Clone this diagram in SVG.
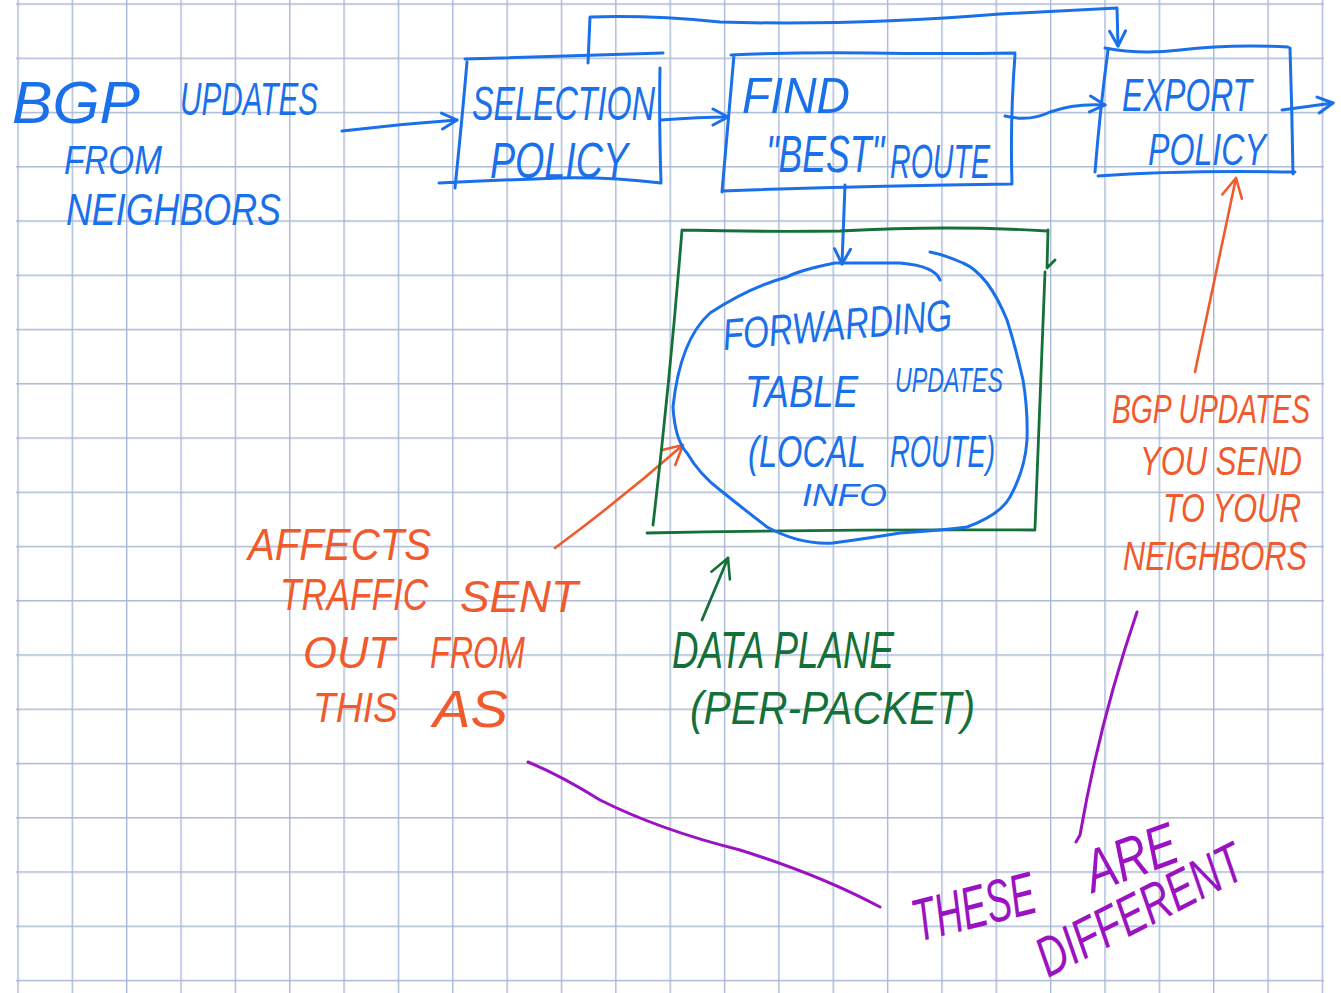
<svg xmlns="http://www.w3.org/2000/svg" width="1341" height="993" viewBox="0 0 1341 993">
<defs>
<pattern id="grid" x="17.3" y="3.3" width="54.35" height="54.25" patternUnits="userSpaceOnUse">
<path d="M0.7,0 V54.25 M0,0.7 H54.35" fill="none" stroke="#a9b9d5" stroke-width="1.4"/>
</pattern>
<marker id="ab" viewBox="0 0 20 20" refX="18" refY="10" markerWidth="20" markerHeight="20" markerUnits="userSpaceOnUse" orient="auto"><path d="M3,2 L18,10 L3,18" fill="none" stroke="#1a70ea" stroke-width="3" stroke-linecap="round" stroke-linejoin="round"/></marker>
<marker id="ao" viewBox="0 0 24 24" refX="22" refY="12" markerWidth="24" markerHeight="24" markerUnits="userSpaceOnUse" orient="auto"><path d="M3,2 L22,12 L3,22" fill="none" stroke="#f05a2c" stroke-width="2.6" stroke-linecap="round" stroke-linejoin="round"/></marker>
<marker id="ag" viewBox="0 0 24 24" refX="22" refY="12" markerWidth="24" markerHeight="24" markerUnits="userSpaceOnUse" orient="auto"><path d="M3,2 L22,12 L3,22" fill="none" stroke="#137038" stroke-width="2.6" stroke-linecap="round" stroke-linejoin="round"/></marker>
</defs>
<style>
.b{fill:none;stroke:#1a70ea;stroke-width:3;stroke-linecap:round;stroke-linejoin:round}
.o{fill:none;stroke:#f05a2c;stroke-width:2.6;stroke-linecap:round;stroke-linejoin:round}
.g{fill:none;stroke:#137038;stroke-width:2.8;stroke-linecap:round;stroke-linejoin:round}
.p{fill:none;stroke:#9b12c2;stroke-width:3;stroke-linecap:round;stroke-linejoin:round}
text{font-family:"Liberation Sans",Arial,sans-serif;font-style:italic;}
.tb{fill:#1a70ea}.to{fill:#f05a2c}.tg{fill:#137038}.tp{fill:#9b12c2}
</style>
<rect x="0" y="0" width="1341" height="993" fill="#ffffff"/>
<rect x="16" y="0" width="1308" height="993" fill="url(#grid)"/>

<g id="connectors">
<path class="b" d="M342,131 Q400,124 457,120" marker-end="url(#ab)"/>
<path class="b" d="M661,120 Q700,117 728,117" marker-end="url(#ab)"/>
<path class="b" d="M1005,116 Q1030,122 1050,112 Q1075,103 1105,105" marker-end="url(#ab)"/>
<path class="b" d="M1282,110 L1333,103" marker-end="url(#ab)"/>
<path class="b" d="M588,63 L590,17 Q650,15 720,22 Q850,26 1000,14 L1117,8 L1118,46" marker-end="url(#ab)"/>
<path class="b" d="M845,185 L842,264" marker-end="url(#ab)"/>
<path class="o" d="M555,548 Q620,500 683,445" marker-end="url(#ao)"/>
<path class="o" d="M1195,372 L1236,178" marker-end="url(#ao)"/>
<path class="g" d="M702,620 L728,558" marker-end="url(#ag)"/>
<path class="p" d="M528,762 Q560,775 600,800 Q660,830 740,850 Q820,875 880,907"/>
<path class="p" d="M1137,612 Q1100,720 1080,835 L1076,842"/>
</g>

<g id="bgp-updates-from-neighbors">
<text class="tb" font-size="60" transform="translate(12 123)" textLength="128" lengthAdjust="spacingAndGlyphs">BGP</text>
<text class="tb" font-size="29" transform="translate(180 115) scale(1 1.6)" textLength="138" lengthAdjust="spacingAndGlyphs">UPDATES</text>
<text class="tb" font-size="33" transform="translate(64 174) scale(1 1.21)" textLength="98" lengthAdjust="spacingAndGlyphs">FROM</text>
<text class="tb" font-size="35.8" transform="translate(66 225) scale(1 1.23)" textLength="215" lengthAdjust="spacingAndGlyphs">NEIGHBORS</text>
</g>

<g id="selection-policy">
<path class="b" d="M465,59 L663,53 M467,62 Q462,120 455,188 M660,68 Q659,120 661,183 M439,183 Q500,180 560,178 Q610,177 661,183"/>
<text class="tb" font-size="32.3" transform="translate(472 120) scale(1 1.49)" textLength="183" lengthAdjust="spacingAndGlyphs">SELECTION</text>
<text class="tb" font-size="37.6" transform="translate(490 178) scale(1 1.33)" textLength="138" lengthAdjust="spacingAndGlyphs">POLICY</text>
</g>

<g id="find-best-route">
<path class="b" d="M731,55 Q800,52 870,53 T1015,53 M734,55 L722,192 M1015,55 Q1010,120 1012,184 M722,191 Q860,186 1012,184"/>
<text class="tb" font-size="46" transform="translate(742 113) scale(1 1.09)" textLength="108" lengthAdjust="spacingAndGlyphs">FIND</text>
<text class="tb" font-size="35.5" transform="translate(766 172) scale(1 1.46)" textLength="118" lengthAdjust="spacingAndGlyphs">"BEST"</text>
<text class="tb" font-size="28.5" transform="translate(890 178) scale(1 1.7)" textLength="100" lengthAdjust="spacingAndGlyphs">ROUTE</text>
</g>

<g id="export-policy">
<path class="b" d="M1105,48 Q1140,55 1180,50 Q1230,44 1288,47 M1108,50 Q1100,110 1095,172 M1290,48 Q1292,110 1293,174 M1098,176 Q1180,170 1295,172"/>
<text class="tb" font-size="31.6" transform="translate(1122 111) scale(1 1.46)" textLength="130" lengthAdjust="spacingAndGlyphs">EXPORT</text>
<text class="tb" font-size="32.2" transform="translate(1148 165) scale(1 1.4)" textLength="118" lengthAdjust="spacingAndGlyphs">POLICY</text>
</g>

<g id="data-plane-box">
<path class="g" d="M682,230 Q760,232 840,231 Q950,225 1047,231 M682,230 Q670,380 653,525 M1048,230 L1047,268 L1055,260 M1045,272 Q1040,400 1035,528 M647,533 Q840,529 1035,530"/>
</g>

<g id="forwarding-table">
<path class="b" d="M940,280 Q935,266 900,263 L835,263 Q800,270 787,277 Q750,287 710,313 Q680,340 673,407 Q675,440 687,453 Q700,475 720,490 Q745,510 767,527 Q800,545 833,543 Q870,538 900,533 Q945,530 967,527 Q1000,515 1010,497 Q1025,470 1027,440 Q1028,410 1023,380 Q1015,345 1007,320 Q998,298 987,283 Q975,268 963,263 Q945,255 930,252"/>
<text class="tb" font-size="33" transform="translate(724 350) rotate(-5) scale(1 1.33)" textLength="230" lengthAdjust="spacingAndGlyphs">FORWARDING</text>
<text class="tb" font-size="35.7" transform="translate(745 407) scale(1 1.23)" textLength="113" lengthAdjust="spacingAndGlyphs">TABLE</text>
<text class="tb" font-size="23" transform="translate(895 392) scale(1 1.56)" textLength="108" lengthAdjust="spacingAndGlyphs">UPDATES</text>
<text class="tb" font-size="32.6" transform="translate(748 467) scale(1 1.35)" textLength="118" lengthAdjust="spacingAndGlyphs">(LOCAL</text>
<text class="tb" font-size="27.3" transform="translate(890 467) scale(1 1.6)" textLength="105" lengthAdjust="spacingAndGlyphs">ROUTE)</text>
<text class="tb" font-size="30" transform="translate(802 506) scale(1 1.05)" textLength="85" lengthAdjust="spacingAndGlyphs">INFO</text>
</g>

<g id="affects-traffic-note">
<text class="to" font-size="40.2" transform="translate(248 560) scale(1 1.1)" textLength="183" lengthAdjust="spacingAndGlyphs">AFFECTS</text>
<text class="to" font-size="35" transform="translate(280 610) scale(1 1.26)" textLength="148" lengthAdjust="spacingAndGlyphs">TRAFFIC</text>
<text class="to" font-size="44" transform="translate(460 612)" textLength="118" lengthAdjust="spacingAndGlyphs">SENT</text>
<text class="to" font-size="43.5" transform="translate(303 668)" textLength="92" lengthAdjust="spacingAndGlyphs">OUT</text>
<text class="to" font-size="32.2" transform="translate(430 668) scale(1 1.37)" textLength="95" lengthAdjust="spacingAndGlyphs">FROM</text>
<text class="to" font-size="37.3" transform="translate(313 722) scale(1 1.13)" textLength="85" lengthAdjust="spacingAndGlyphs">THIS</text>
<text class="to" font-size="50" transform="translate(433 727) scale(1 1.05)" textLength="75" lengthAdjust="spacingAndGlyphs">AS</text>
</g>

<g id="bgp-updates-you-send-note">
<text class="to" font-size="27.8" transform="translate(1112 423) scale(1 1.47)" textLength="198" lengthAdjust="spacingAndGlyphs">BGP UPDATES</text>
<text class="to" font-size="31" transform="translate(1140 475) scale(1 1.32)" textLength="162" lengthAdjust="spacingAndGlyphs">YOU SEND</text>
<text class="to" font-size="30.3" transform="translate(1163 522) scale(1 1.35)" textLength="138" lengthAdjust="spacingAndGlyphs">TO YOUR</text>
<text class="to" font-size="30.6" transform="translate(1123 570) scale(1 1.34)" textLength="184" lengthAdjust="spacingAndGlyphs">NEIGHBORS</text>
</g>

<g id="data-plane-label">
<text class="tg" font-size="35.6" transform="translate(672 668) scale(1 1.46)" textLength="222" lengthAdjust="spacingAndGlyphs">DATA PLANE</text>
<text class="tg" font-size="40.4" transform="translate(690 724) scale(1 1.14)" textLength="285" lengthAdjust="spacingAndGlyphs">(PER-PACKET)</text>
</g>

<g id="these-are-different">
<text class="tp" font-size="37.5" transform="translate(918 942) rotate(-14) scale(1 1.6)" textLength="125" lengthAdjust="spacingAndGlyphs">THESE</text>
<text class="tp" font-size="46" transform="translate(1093 893) rotate(-20) scale(1 1.3)" textLength="95" lengthAdjust="spacingAndGlyphs">ARE</text>
<text class="tp" font-size="40" transform="translate(1048 978) rotate(-27) scale(1 1.4)" textLength="225" lengthAdjust="spacingAndGlyphs">DIFFERENT</text>
</g>
</svg>
